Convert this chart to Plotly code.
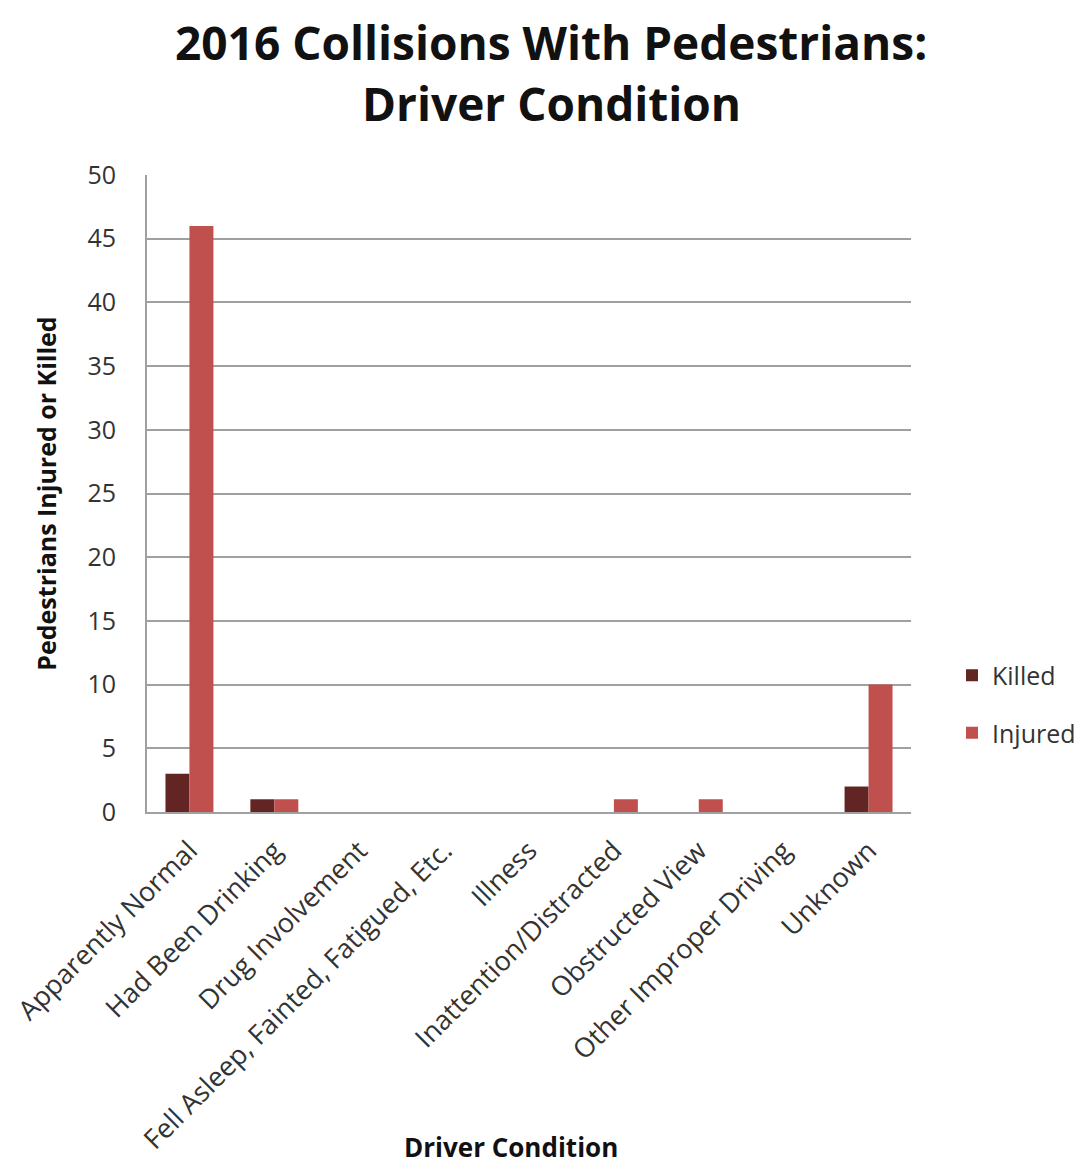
import plotly.graph_objects as go

categories = ["Apparently Normal", "Had Been Drinking", "Drug Involvement",
              "Fell Asleep, Fainted, Fatigued, Etc.", "Illness",
              "Inattention/Distracted", "Obstructed View",
              "Other Improper Driving", "Unknown"]
killed = [3, 1, 0, 0, 0, 0, 0, 0, 2]
injured = [46, 1, 0, 0, 0, 1, 1, 0, 10]

FONT = "Open Sans"
W, H = 1079, 1167
L, T = 139, 167
R = W - (911 - 8)
B = H - (812 - 8)
PW, PH = W - L - R, H - T - B

def px(x_screen):
    return ((x_screen - 8) - L) / PW

def py(y_screen):
    return 1 - ((y_screen - 8) - T) / PH

fig = go.Figure()
fig.add_trace(go.Bar(name="Killed", x=categories, y=killed,
                     marker=dict(color="#632523", line=dict(width=0)),
                     legendgroup="k"))
fig.add_trace(go.Bar(name="Injured", x=categories, y=injured,
                     marker=dict(color="#C0504D", line=dict(width=0)),
                     legendgroup="i"))

fig.update_layout(
    width=W, height=H,
    margin=dict(l=L, r=R, t=T, b=B, autoexpand=False),
    paper_bgcolor="white", plot_bgcolor="white",
    barmode="group", bargap=0.435, bargroupgap=0,
    font=dict(family=FONT, color="#222222", size=25),
    showlegend=True,
    legend=dict(x=px(952), y=py(704), xanchor="left", yanchor="middle",
                font=dict(size=25, color="#333333"),
                tracegroupgap=22, traceorder="grouped",
                itemwidth=30),
    xaxis=dict(tickangle=-45, showgrid=False, showline=True, automargin=False,
               linecolor="#a0a0a0", linewidth=2, ticklabelstandoff=10,
               tickfont=dict(size=27, color="#333333")),
    yaxis=dict(range=[0, 50], dtick=5, showgrid=True, gridcolor="#a0a0a0",
               gridwidth=2, showline=True, linecolor="#a0a0a0", linewidth=2,
               zeroline=False, ticks="", ticklabelstandoff=24, automargin=False,
               tickfont=dict(size=25, color="#333333"),
               title=dict(text="<b>Pedestrians Injured or Killed</b>",
                          font=dict(size=25, color="#111111"), standoff=24)),
)

fig.add_annotation(text="<b>2016 Collisions With Pedestrians:</b>",
                   xref="paper", yref="paper", x=px(551), y=py(42),
                   xanchor="center", yanchor="middle", showarrow=False,
                   borderpad=0,
                   font=dict(size=46, color="#111111", family=FONT))
fig.add_annotation(text="<b>Driver Condition</b>",
                   xref="paper", yref="paper", x=px(551), y=py(103),
                   xanchor="center", yanchor="middle", showarrow=False,
                   borderpad=0,
                   font=dict(size=46, color="#111111", family=FONT))
fig.add_annotation(text="<b>Driver Condition</b>",
                   xref="paper", yref="paper", x=px(511), y=py(1147),
                   xanchor="center", yanchor="middle", showarrow=False,
                   font=dict(size=26, color="#111111", family=FONT))
fig.write_html("out.html")
